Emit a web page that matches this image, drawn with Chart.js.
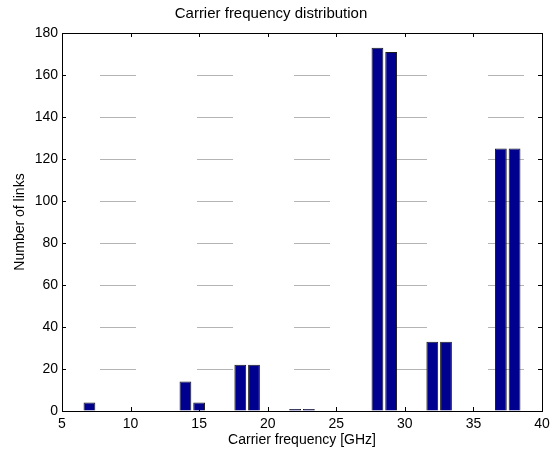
<!DOCTYPE html>
<html>
<head>
<meta charset="utf-8">
<script src="https://cdn.jsdelivr.net/npm/chart.js@4"></script>
<style>
  html, body { margin: 0; padding: 0; background: #fff; }
  #wrap { width: 558px; height: 452px; }
</style>
</head>
<body>
<div id="wrap"><canvas id="freqChart" width="558" height="452"></canvas></div>
<script>
// carrier frequencies (GHz) and link counts
const frequencies = [7, 14, 15, 18, 19, 22, 23, 28, 29, 32, 33, 37, 38];
const linkCounts  = [4, 14, 4, 22, 22, 1, 1, 173, 171, 33, 33, 125, 125];

const xTicks = [5, 10, 15, 20, 25, 30, 35, 40];
const yTicks = [0, 20, 40, 60, 80, 100, 120, 140, 160, 180];

const fontFamily = '"Liberation Sans", Arial, Helvetica, sans-serif';

// matlab style box with inward tick marks on all four sides
const boxTicks = {
  id: 'boxTicks',
  afterDraw(chart) {
    const { ctx, chartArea: a, scales } = chart;
    const len = 4;
    ctx.save();
    ctx.strokeStyle = '#000';
    ctx.lineWidth = 1;
    ctx.beginPath();
    for (const v of xTicks) {
      const px = Math.round(scales.x.getPixelForValue(v)) + 0.5;
      ctx.moveTo(px, a.bottom); ctx.lineTo(px, a.bottom - len);
      ctx.moveTo(px, a.top);    ctx.lineTo(px, a.top + len);
    }
    for (const v of yTicks) {
      const py = Math.round(scales.y.getPixelForValue(v)) + 0.5;
      ctx.moveTo(a.left, py);  ctx.lineTo(a.left + len, py);
      ctx.moveTo(a.right, py); ctx.lineTo(a.right - len, py);
    }
    ctx.stroke();
    ctx.strokeRect(Math.round(a.left) + 0.5, Math.round(a.top) + 0.5,
                   Math.round(a.right - a.left), Math.round(a.bottom - a.top));
    ctx.restore();
  }
};

new Chart(document.getElementById('freqChart'), {
  type: 'bar',
  data: {
    datasets: [{
      label: 'Number of links',
      data: frequencies.map((f, i) => ({ x: f, y: linkCounts[i] })),
      backgroundColor: '#00008f',
      borderColor: '#1a1a1a',
      borderWidth: 1,
      barPercentage: 1,
      categoryPercentage: 0.86
    }]
  },
  options: {
    responsive: false,
    animation: false,
    layout: { padding: { left: 0, right: 16, top: 0, bottom: 0 } },
    plugins: {
      legend: { display: false },
      tooltip: { enabled: false },
      title: {
        display: true,
        text: 'Carrier frequency distribution',
        color: '#000',
        font: { family: fontFamily, size: 15, weight: 'normal' },
        padding: { top: 5, bottom: 10 }
      }
    },
    scales: {
      x: {
        type: 'linear',
        min: 5,
        max: 40,
        offset: false,
        grid: { display: false, drawTicks: false },
        border: { display: false },
        afterBuildTicks: (s) => { s.ticks = xTicks.map(v => ({ value: v })); },
        afterFit: (s) => { s.height = 41; },
        ticks: { color: '#000', padding: 5, font: { family: fontFamily, size: 14 } },
        title: {
          display: true,
          text: 'Carrier frequency [GHz]',
          color: '#000',
          font: { family: fontFamily, size: 14 },
          padding: { top: 0, bottom: 3 }
        }
      },
      y: {
        min: 0,
        max: 180,
        // faint broken grid, like the dotted matlab grid in the picture
        grid: { display: true, drawTicks: false, color: '#b4b4b4', lineWidth: 1 },
        border: { display: false, dash: [36, 61], dashOffset: 59 },
        afterBuildTicks: (s) => { s.ticks = yTicks.map(v => ({ value: v })); },
        afterFit: (s) => { s.width = 62; },
        ticks: { color: '#000', padding: 4, font: { family: fontFamily, size: 14 } },
        title: {
          display: true,
          text: 'Number of links',
          color: '#000',
          font: { family: fontFamily, size: 14 },
          padding: { top: 12, bottom: 0 }
        }
      }
    }
  },
  plugins: [boxTicks]
});
</script>
</body>
</html>
